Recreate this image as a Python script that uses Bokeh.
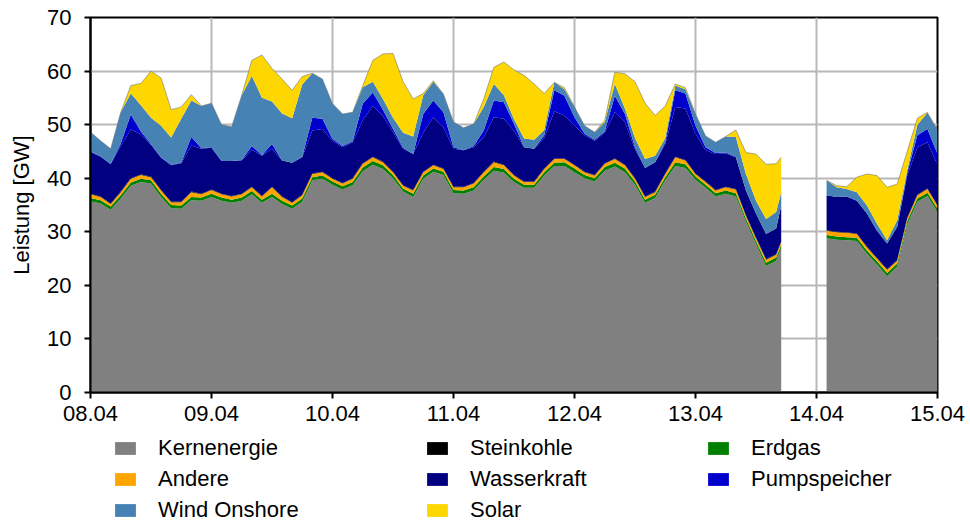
import numpy as np
from bokeh.plotting import figure
from bokeh.layouts import column
from bokeh.models import ColumnDataSource, Range1d, FixedTicker, Legend, LegendItem
from bokeh.embed import file_html
from bokeh.resources import INLINE

# hours since 08.04 00:00 (gap between 13.04 17:00 and 14.04 02:00)
hours = list(range(0, 137, 2)) + [137] + list(range(146, 169, 2))

tick_hours = [0, 24, 48, 72, 96, 120, 144, 168]
tick_labels = ["08.04", "09.04", "10.04", "11.04", "12.04", "13.04", "14.04", "15.04"]
y_ticks = [0, 10, 20, 30, 40, 50, 60, 70]

kernenergie = [
    35.7, 35.3, 34.1, 36.2, 38.6, 39.3, 39.0, 36.5, 34.4, 34.3,
    35.9, 35.8, 36.5, 35.8, 35.4, 35.8, 37.0, 35.4, 36.5, 35.2,
    34.3, 35.6, 39.6, 39.9, 38.8, 37.9, 38.7, 41.3, 42.5, 41.7,
    40.0, 37.5, 36.5, 39.9, 41.2, 40.6, 37.2, 37.1, 37.7, 39.7,
    41.4, 41.0, 39.3, 38.2, 38.2, 40.5, 42.3, 42.3, 41.1, 40.0,
    39.4, 41.4, 42.2, 41.1, 38.8, 35.4, 36.3, 39.6, 42.3, 41.9,
    39.7, 38.2, 36.6, 37.1, 36.6, 31.9, 27.7, 23.6, 24.6, 27.0,
    28.8, 28.5, 28.4, 28.3, 25.9, 23.9, 21.7, 23.5, 31.4, 35.6, 36.7, 33.7]

erdgas = [
    0.6, 0.6, 0.6, 0.6, 0.6, 0.6, 0.6, 0.6, 0.6, 0.6,
    0.6, 0.6, 0.6, 0.6, 0.6, 0.6, 0.6, 0.6, 0.6, 0.6,
    0.6, 0.6, 0.6, 0.6, 0.6, 0.6, 0.6, 0.7, 0.7, 0.7,
    0.6, 0.6, 0.6, 0.6, 0.6, 0.6, 0.6, 0.6, 0.6, 0.6,
    0.7, 0.7, 0.6, 0.6, 0.6, 0.6, 0.6, 0.7, 0.7, 0.6,
    0.6, 0.7, 0.7, 0.7, 0.6, 0.6, 0.6, 0.6, 0.7, 0.7,
    0.6, 0.6, 0.6, 0.6, 0.6, 0.6, 0.6, 0.6, 0.6, 0.6,
    0.6, 0.6, 0.6, 0.6, 0.6, 0.6, 0.6, 0.6, 0.6, 0.6, 0.6, 0.6]

andere = [
    0.7, 0.6, 0.5, 0.6, 0.7, 0.7, 0.6, 0.6, 0.5, 0.6,
    0.9, 0.6, 0.7, 0.6, 0.6, 0.6, 0.7, 0.6, 1.2, 0.7,
    0.5, 0.6, 0.6, 0.6, 0.5, 0.5, 0.6, 0.7, 0.7, 0.6,
    0.5, 0.5, 0.6, 0.6, 0.6, 0.5, 0.5, 0.6, 0.7, 0.8,
    0.9, 0.7, 0.6, 0.5, 0.5, 0.6, 0.7, 0.6, 0.6, 0.5,
    0.5, 0.6, 0.7, 0.6, 0.5, 0.5, 0.5, 0.6, 0.9, 0.7,
    0.5, 0.5, 0.5, 0.6, 0.7, 0.5, 0.5, 0.6, 0.5, 0.5,
    0.8, 0.8, 0.8, 0.7, 0.6, 0.5, 0.6, 0.5, 0.5, 0.6, 0.7, 0.6]

steinkohle = [
    0.1, 0.1, 0.1, 0.1, 0.1, 0.1, 0.1, 0.1, 0.1, 0.1,
    0.1, 0.1, 0.1, 0.1, 0.1, 0.1, 0.1, 0.1, 0.1, 0.1,
    0.1, 0.1, 0.1, 0.1, 0.1, 0.1, 0.1, 0.1, 0.1, 0.1,
    0.1, 0.1, 0.1, 0.1, 0.1, 0.1, 0.1, 0.1, 0.1, 0.1,
    0.1, 0.1, 0.1, 0.1, 0.1, 0.1, 0.1, 0.1, 0.1, 0.1,
    0.1, 0.1, 0.1, 0.1, 0.1, 0.1, 0.1, 0.1, 0.1, 0.1,
    0.1, 0.1, 0.1, 0.1, 0.1, 0.1, 0.1, 0.1, 0.1, 0.1,
    0.1, 0.1, 0.1, 0.1, 0.1, 0.1, 0.1, 0.1, 0.1, 0.1, 0.1, 0.1]

wasserkraft = [
    7.8, 7.4, 7.3, 8.5, 9.1, 7.5, 5.9, 6.0, 6.8, 7.2,
    8.6, 8.4, 7.8, 6.1, 6.5, 6.2, 6.9, 7.5, 7.1, 6.7,
    7.4, 7.0, 8.0, 8.0, 7.0, 6.7, 6.7, 8.0, 9.5, 8.5,
    7.4, 6.8, 6.7, 7.3, 8.9, 7.7, 7.1, 6.8, 6.7, 6.4,
    8.3, 8.6, 8.2, 6.4, 6.1, 5.7, 8.8, 8.0, 7.3, 6.8,
    6.4, 5.7, 8.6, 8.0, 5.4, 5.3, 5.5, 5.5, 9.3, 9.6,
    7.4, 5.8, 6.7, 6.2, 5.9, 4.6, 4.5, 4.7, 4.8, 6.7,
    6.5, 6.5, 6.7, 6.1, 6.2, 5.1, 4.8, 6.2, 7.9, 8.9, 8.6, 7.5]

pumpspeicher = [
    0.1, 0.1, 0.1, 0.5, 2.8, 0.5, 0.2, 0.1, 0.1, 0.1,
    1.6, 0.1, 0.1, 0.0, 0.0, 0.1, 0.7, 0.1, 0.9, 0.0,
    0.0, 0.1, 2.4, 1.9, 0.3, 0.2, 0.2, 3.1, 2.5, 1.2,
    0.6, 0.2, 0.0, 3.5, 3.1, 2.8, 0.3, 0.0, 0.2, 1.3,
    3.1, 3.1, 1.3, 0.0, 0.0, 0.5, 3.9, 3.7, 1.6, 0.3,
    0.2, 0.2, 3.1, 1.5, 0.4, 0.0, 0.0, 0.3, 3.1, 2.8,
    1.5, 0.6, 0.2, 0.2, 0.1, 0.0, 0.0, 0.0, 0.0, 0.0,
    0.0, 0.0, 0.0, 0.0, 0.0, 0.0, 0.0, 0.0, 0.5, 2.2, 2.5, 2.0]

wind_onshore = [
    3.6, 2.9, 2.8, 5.8, 3.9, 4.9, 4.9, 5.9, 5.1, 8.2,
    6.8, 7.9, 8.2, 6.8, 6.4, 12.1, 13.1, 10.7, 7.9, 8.8,
    8.3, 13.5, 8.3, 7.4, 6.6, 6.0, 5.4, 3.1, 2.0, 2.0,
    2.1, 2.8, 3.3, 3.5, 3.5, 3.4, 4.7, 4.2, 4.1, 4.4,
    3.1, 1.3, 0.9, 1.6, 1.7, 1.0, 1.5, 1.2, 1.9, 1.5,
    1.4, 1.8, 2.2, 1.0, 1.7, 1.7, 1.2, 0.8, 0.9, 0.8,
    2.2, 2.1, 2.0, 3.0, 3.7, 3.1, 2.4, 2.8, 3.1, 2.5,
    2.8, 1.8, 1.4, 1.6, 1.5, 1.3, 0.6, 1.2, 0.5, 2.0, 3.0, 4.5]

solar = [
    0.0, 0.0, 0.0, 0.0, 1.5, 4.1, 8.7, 8.9, 5.2, 2.2,
    1.1, 0.0, 0.0, 0.0, 0.0, 0.0, 2.9, 8.0, 6.2, 6.4,
    5.2, 1.5, 0.0, 0.0, 0.0, 0.0, 0.0, 0.3, 4.0, 8.4,
    12.0, 9.5, 7.0, 0.3, 0.2, 0.0, 0.0, 0.0, 0.0, 1.5,
    3.1, 6.2, 9.2, 11.8, 10.4, 6.8, 0.0, 0.3, 0.0, 0.0,
    0.0, 0.3, 2.2, 6.5, 10.5, 10.4, 7.5, 6.0, 0.3, 0.3,
    0.0, 0.0, 0.0, 0.0, 1.3, 4.0, 8.7, 10.2, 9.0, 6.5,
    0.0, 0.3, 0.4, 2.8, 5.9, 9.0, 9.9, 6.8, 3.5, 1.2, 0.1, 0.0]

# stacking order (bottom -> top)
stack = [
    ("Kernenergie", kernenergie, "#808080"),
    ("Erdgas", erdgas, "#008000"),
    ("Andere", andere, "#FFA500"),
    ("Steinkohle", steinkohle, "#000000"),
    ("Wasserkraft", wasserkraft, "#000080"),
    ("Pumpspeicher", pumpspeicher, "#0000CD"),
    ("Wind Onshore", wind_onshore, "#4682B4"),
    ("Solar", solar, "#FFD700"),
]
keys = ["s%d" % i for i in range(len(stack))]
colors = [c for _, _, c in stack]
color_of = {n: c for n, _, c in stack}

FONT = "Liberation Sans"
W = 968
FRAME_LEFT = 90

p = figure(width=W, height=432, output_backend="svg", toolbar_location=None,
           x_range=Range1d(0, 168), y_range=Range1d(0, 70),
           min_border_left=FRAME_LEFT, min_border_right=31, min_border_top=17,
           min_border_bottom=40)
p.background_fill_color = "white"
p.border_fill_color = "white"

# split into contiguous segments (data gap)
segments = []
start = 0
for i in range(1, len(hours)):
    if hours[i] - hours[i - 1] > 2:
        segments.append((start, i))
        start = i
segments.append((start, len(hours)))

for a, b in segments:
    data = {"x": hours[a:b]}
    for k, (_, vals, _) in zip(keys, stack):
        data[k] = vals[a:b]
    data["total"] = list(np.sum([np.array(data[k]) for k in keys], axis=0))
    src = ColumnDataSource(data)
    p.varea_stack(stackers=keys, x="x", color=colors, source=src)
    p.line(x="x", y="total", source=src, line_color="#707070", line_width=0.8, line_alpha=0.7)

# axes & grid
p.xaxis.ticker = FixedTicker(ticks=tick_hours)
p.xaxis.major_label_overrides = {h: l for h, l in zip(tick_hours, tick_labels)}
p.yaxis.ticker = FixedTicker(ticks=y_ticks)
p.xgrid.ticker = FixedTicker(ticks=tick_hours)
p.ygrid.ticker = FixedTicker(ticks=y_ticks)
for g in (p.xgrid, p.ygrid):
    g.grid_line_color = "#b8b8b8"
    g.grid_line_width = 2

for ax in (p.xaxis, p.yaxis):
    ax.axis_line_color = "black"
    ax.axis_line_width = 2
    ax.major_tick_line_color = "black"
    ax.major_tick_line_width = 2
    ax.major_tick_out = 6
    ax.major_tick_in = 0
    ax.minor_tick_line_color = None
    ax.major_label_text_font = FONT
    ax.major_label_text_font_size = "22px"
    ax.major_label_text_color = "black"

p.xaxis.major_label_standoff = 7
p.yaxis.major_label_standoff = 13
p.yaxis.axis_label = "Leistung [GW]"
p.yaxis.axis_label_text_font = FONT
p.yaxis.axis_label_text_font_size = "22px"
p.yaxis.axis_label_text_font_style = "normal"
p.yaxis.axis_label_text_color = "black"
p.yaxis.axis_label_standoff = 10

p.outline_line_color = "black"
p.outline_line_width = 2
p.outline_line_alpha = 1.0

# legend panel (three columns, as in the reference)
LH = 92
pl = figure(width=W, height=LH, output_backend="svg", toolbar_location=None,
            x_range=Range1d(0, 1), y_range=Range1d(0, 1),
            x_axis_type=None, y_axis_type=None,
            min_border_left=FRAME_LEFT, min_border_right=31,
            min_border_top=0, min_border_bottom=0)
pl.outline_line_color = None
pl.grid.visible = False
pl.background_fill_color = "white"
pl.border_fill_color = "white"

legend_columns = [["Kernenergie", "Andere", "Wind Onshore"],
                  ["Steinkohle", "Wasserkraft", "Solar"],
                  ["Erdgas", "Pumpspeicher"]]
legend_x = [112, 424, 705]          # page x of the colour squares
ITEM_H = 26
GAP = 5
TOP = 3
for col, lx in zip(legend_columns, legend_x):
    items = []
    for n in col:
        r = pl.varea(x=[0, 1], y1=[0, 0], y2=[0, 0], fill_color=color_of[n])
        items.append(LegendItem(label=n, renderers=[r]))
    h = len(col) * ITEM_H + (len(col) - 1) * GAP
    leg = Legend(items=items, location=(lx - FRAME_LEFT, LH - TOP - h),
                 orientation="vertical",
                 glyph_width=26, glyph_height=16, label_standoff=20,
                 label_height=ITEM_H, spacing=GAP, padding=0, margin=0,
                 border_line_alpha=0, background_fill_alpha=0,
                 label_text_font=FONT, label_text_font_size="22px",
                 label_text_color="black", label_text_baseline="middle")
    pl.add_layout(leg, "center")

layout = column(p, pl, spacing=0)
open("out.html", "w").write(file_html(layout, INLINE))
